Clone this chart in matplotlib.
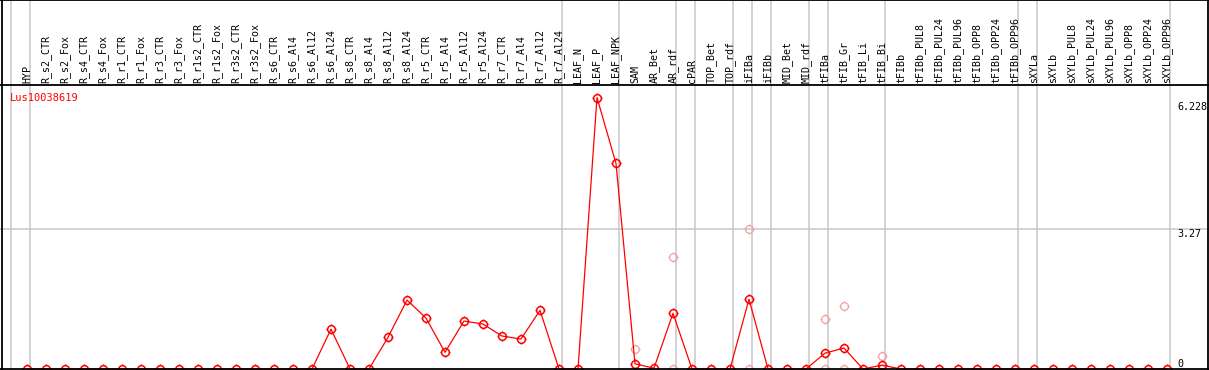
import numpy as np
import matplotlib
matplotlib.use('Agg')
import matplotlib.pyplot as plt
from matplotlib.path import Path
from matplotlib.transforms import blended_transform_factory

# samples, in display order
samples = ['HYP',
           'R_s2_CTR', 'R_s2_Fox', 'R_s4_CTR', 'R_s4_Fox', 'R_r1_CTR', 'R_r1_Fox',
           'R_r3_CTR', 'R_r3_Fox', 'R_r1s2_CTR', 'R_r1s2_Fox', 'R_r3s2_CTR', 'R_r3s2_Fox',
           'R_s6_CTR', 'R_s6_Al4', 'R_s6_Al12', 'R_s6_Al24', 'R_s8_CTR', 'R_s8_Al4',
           'R_s8_Al12', 'R_s8_Al24', 'R_r5_CTR', 'R_r5_Al4', 'R_r5_Al12', 'R_r5_Al24',
           'R_r7_CTR', 'R_r7_Al4', 'R_r7_Al12', 'R_r7_Al24',
           'LEAF_N', 'LEAF_P', 'LEAF_NPK',
           'SAM', 'AR_Bet', 'AR_rdf', 'cPAR', 'TOP_Bet', 'TOP_rdf', 'iFIBa', 'iFIBb',
           'MID_Bet', 'MID_rdf', 'tFIBa', 'tFIB_Gr', 'tFIB_Li', 'tFIB_Bi',
           'tFIBb', 'tFIBb_PUL8', 'tFIBb_PUL24', 'tFIBb_PUL96', 'tFIBb_OPP8',
           'tFIBb_OPP24', 'tFIBb_OPP96',
           'sXYLa', 'sXYLb', 'sXYLb_PUL8', 'sXYLb_PUL24', 'sXYLb_PUL96', 'sXYLb_OPP8',
           'sXYLb_OPP24', 'sXYLb_OPP96']

# mean expression per sample
means = [0.0,
         0.0, 0.0, 0.0, 0.0, 0.0, 0.0, 0.0, 0.0, 0.0, 0.0, 0.0, 0.0,
         0.0, 0.0, 0.0, 0.93, 0.0, 0.0, 0.74, 1.61, 1.19, 0.39, 1.12, 1.05,
         0.77, 0.70, 1.37, 0.0,
         0.0, 6.34, 4.80,
         0.12, 0.02, 1.30, 0.0, 0.0, 0.0, 1.63, 0.0,
         0.0, 0.0, 0.37, 0.49, 0.0, 0.09,
         0.0, 0.0, 0.0, 0.0, 0.0, 0.0, 0.0,
         0.0, 0.0, 0.0, 0.0, 0.0, 0.0, 0.0, 0.0]

# individual replicates that stand out from the mean
rep_samples = ['SAM', 'AR_rdf', 'AR_rdf', 'iFIBa', 'iFIBa',
               'tFIBa', 'tFIBa', 'tFIB_Gr', 'tFIB_Gr', 'tFIB_Bi', 'tFIB_Bi']
rep_values = [0.47, 2.62, 0.0, 3.27, 0.0,
              1.16, 0.0, 1.47, 0.0, 0.30, 0.0]

# first sample of each group (separator lines drawn before them)
group_starts = ['HYP', 'R_s2_CTR', 'LEAF_N', 'SAM', 'cPAR', 'TOP_Bet', 'iFIBa',
                'iFIBb', 'MID_Bet', 'tFIBa', 'tFIB_Gr', 'tFIBb', 'sXYLa', 'sXYLb']

gene = 'Lus10038619'
ref_ticks = [6.228, 3.27, 0]

W, H = 1209, 370
fig = plt.figure(figsize=(W / 100, H / 100), dpi=100)
ax = fig.add_axes([0, 0, 1, 1])
ax.set_axis_off()

# pixel layout: first point at x=27, step 19px; zero at y=369, 3.27 at y=229
step, x0 = 19.0, 27.0
ppu = (369 - 229) / 3.27
ax.set_xlim(-x0 / step, (W - x0) / step)
ax.set_ylim(-(H - 369) / ppu, 369 / ppu)

mono = 'DejaVu Sans Mono'
fs = 7.2
idx = {s: i for i, s in enumerate(samples)}
x = np.arange(len(samples))

# marker: open circle with four little ticks
theta = np.linspace(0, 2 * np.pi, 49)
verts = [(np.cos(t), np.sin(t)) for t in theta]
codes = [Path.MOVETO] + [Path.LINETO] * (len(theta) - 1)
for dx, dy in [(1, 0), (-1, 0), (0, 1), (0, -1)]:
    verts += [(dx * 1.0, dy * 1.0), (dx * 1.3, dy * 1.3)]
    codes += [Path.MOVETO, Path.LINETO]
ring = Path(verts, codes)

trans_y = blended_transform_factory(ax.transAxes, ax.transData)
trans_x = blended_transform_factory(ax.transData, ax.transAxes)

# grid
ax.axhline(3.27, color='#c8c8c8', lw=1.1, zorder=1)
for s in group_starts:
    ax.axvline(idx[s] - 16 / step, color='#c8c8c8', lw=1.1, zorder=1)
ax.axvline(len(samples) - 16 / step, color='#c8c8c8', lw=1.1, zorder=1)

# frame and header line
k = dict(color='black', lw=1.3, transform=ax.transAxes, zorder=5, clip_on=False)
ax.plot([0.0015, 0.0015], [0, 1], **k)
ax.plot([0.9988, 0.9988], [0, 1], **k)
ax.plot([0, 1], [0.999, 0.999], **k)
ax.plot([0, 1], [1 - 85 / H, 1 - 85 / H], **k)
ax.plot([0, 1], [1 - 369 / H, 1 - 369 / H], **k)

# replicates
ax.plot([idx[s] for s in rep_samples], rep_values, ls='none', marker=ring,
        ms=7.2, mfc='none', mec='#f0a0a0', mew=0.9, zorder=2)

# means
ax.plot(x, means, color='red', lw=0.9, marker=ring, ms=7.2, mfc='none',
        mec='red', mew=1.1, zorder=3)

# sample labels
for i, s in enumerate(samples):
    ax.text(i, 1 - 83 / H, s, rotation=90, ha='center', va='bottom',
            fontsize=fs, family=mono, transform=trans_x)

ax.text(10 / W, (369 - 97.5) / ppu, gene, color='red', fontsize=fs + 0.3,
        family=mono, ha='left', va='center', transform=trans_y)

# value labels on the right
for v in ref_ticks:
    ax.text(1177 / W, v, f'{v:g}', fontsize=fs, family=mono, ha='left',
            va='top' if v > 0 else 'bottom', transform=trans_y)

fig.savefig('out.png', dpi=100)
